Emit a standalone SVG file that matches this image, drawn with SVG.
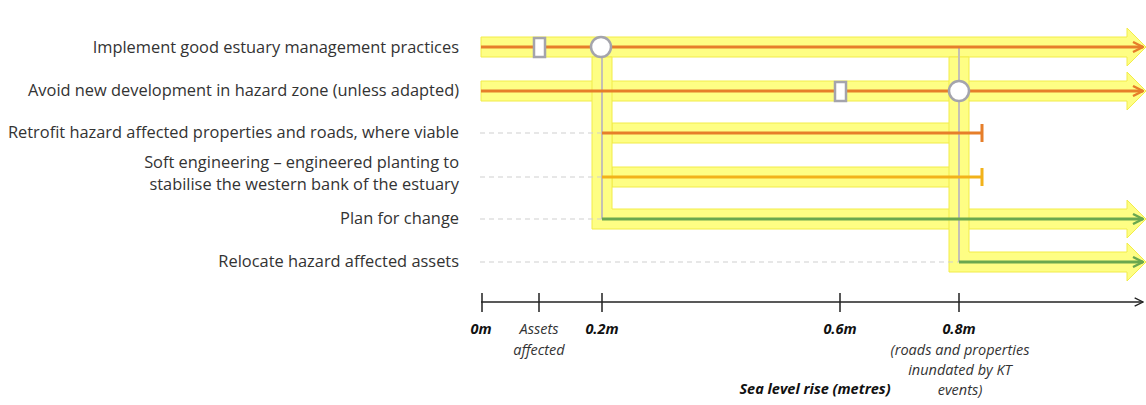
<svg xmlns="http://www.w3.org/2000/svg" width="1146" height="405" viewBox="0 0 1146 405">
<style>
.lbl{font-family:"Open Sans","Liberation Sans",sans-serif;font-size:16.4px;fill:#333;text-anchor:end}
.ax{font-family:"Open Sans","Liberation Sans",sans-serif;font-size:14.5px;font-style:italic;fill:#333;text-anchor:middle}
.axb{font-weight:bold;fill:#111}
.band{fill:#fefe84;stroke:#f2ec48;stroke-width:1}
.orange{stroke:#e67e2a;stroke-width:3;fill:none}
.amber{stroke:#f2b21a;stroke-width:3;fill:none}
.green{stroke:#6aa84f;stroke-width:3;fill:none}
.grey{stroke:#c4c0b4;stroke-width:2;fill:none}
.dash{stroke:#cfcfcf;stroke-width:1;stroke-dasharray:5 4;fill:none}
.node{fill:#fff;stroke:#a4a4ac;stroke-width:2.5}
.axis{stroke:#222;stroke-width:1.5;fill:none}
</style>
<defs>
<marker id="aO" viewBox="0 0 12 12" refX="11" refY="6" markerWidth="12" markerHeight="12" markerUnits="userSpaceOnUse" orient="auto"><path d="M1,1 L11,6 L1,11" fill="none" stroke="#e67e2a" stroke-width="2.4"/></marker>
<marker id="aG" viewBox="0 0 12 12" refX="11" refY="6" markerWidth="12" markerHeight="12" markerUnits="userSpaceOnUse" orient="auto"><path d="M1,1 L11,6 L1,11" fill="none" stroke="#6aa84f" stroke-width="2.4"/></marker>
<marker id="aK" viewBox="0 0 12 12" refX="11" refY="6" markerWidth="10" markerHeight="10" markerUnits="userSpaceOnUse" orient="auto"><path d="M1,1 L11,6 L1,11" fill="none" stroke="#222" stroke-width="1.5"/></marker>
</defs>
<rect width="1146" height="405" fill="#fff"/>
<g id="bands">
<path class="band" d="M481,37 H1127 V28 L1146,47 L1127,66 V57 H481 Z"/>
<path class="band" d="M481,81 H1127 V72 L1146,91 L1127,110 V101 H481 Z"/>
<path class="band" d="M612,123 H950 V143 H612 Z"/>
<path class="band" d="M612,167 H950 V187 H612 Z"/>
<path class="band" d="M592,57 H612 V209 H1127 V200 L1146,219 L1127,238 V229 H592 Z"/>
<path class="band" d="M949,57 H969 V252 H1127 V243 L1146,262 L1127,281 V272 H949 Z"/>
</g>
<g id="connectors">
<path class="dash" d="M480,133 H602 M480,177 H602 M480,219 H602 M480,262 H959"/>
<path class="grey" d="M602,57 V219"/>
<path class="grey" d="M959,47 V262"/>
<path class="orange" d="M481,47 H1143" marker-end="url(#aO)"/>
<path class="orange" d="M481,91 H1143" marker-end="url(#aO)"/>
<path class="orange" d="M602,133 H982 M982,124 V142"/>
<path class="amber" d="M602,177 H982 M982,168 V186"/>
<path class="green" d="M602,219 H1143" marker-end="url(#aG)"/>
<path class="green" d="M959,262 H1143" marker-end="url(#aG)"/>
</g>
<g id="n-assets1"><rect class="node" x="534" y="38" width="11" height="19"/></g>
<g id="n-02m"><circle class="node" cx="601" cy="47" r="10"/></g>
<g id="n-assets2"><rect class="node" x="835" y="82" width="11" height="19"/></g>
<g id="n-08m"><circle class="node" cx="959" cy="91" r="10"/></g>
<g id="labels">
<text class="lbl" x="459" y="53">Implement good estuary management practices</text>
<text class="lbl" x="459" y="96">Avoid new development in hazard zone (unless adapted)</text>
<text class="lbl" x="459" y="138">Retrofit hazard affected properties and roads, where viable</text>
<text class="lbl" x="459" y="168">Soft engineering – engineered planting to</text>
<text class="lbl" x="459" y="190">stabilise the western bank of the estuary</text>
<text class="lbl" x="459" y="224">Plan for change</text>
<text class="lbl" x="459" y="267">Relocate hazard affected assets</text>
</g>
<g id="axis">
<path class="axis" d="M481,302 H1143" marker-end="url(#aK)"/>
<path class="axis" d="M482,293 V312 M539,293 V312 M602,293 V312 M840,293 V312 M959,293 V312"/>
<text class="ax axb" x="481" y="334">0m</text>
<text class="ax" x="539" y="334">Assets</text>
<text class="ax" x="539" y="355">affected</text>
<text class="ax axb" x="602" y="334">0.2m</text>
<text class="ax axb" x="840" y="334">0.6m</text>
<text class="ax axb" x="959" y="334">0.8m</text>
<text class="ax" x="960" y="355">(roads and properties</text>
<text class="ax" x="960" y="375">inundated by KT</text>
<text class="ax" x="960" y="395">events)</text>
<text class="ax axb" x="815" y="394">Sea level rise (metres)</text>
</g>
</svg>
